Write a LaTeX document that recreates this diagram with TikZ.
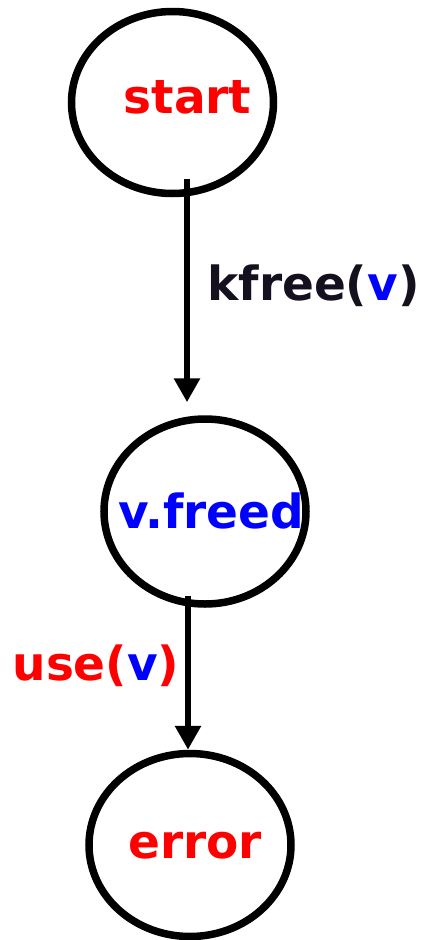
\documentclass[tikz,border=0pt]{standalone}
\usepackage{fontspec}
\setmainfont{DejaVu Sans}
\usetikzlibrary{shapes.geometric, arrows.meta}

\definecolor{labelink}{HTML}{15101E}

\begin{document}
\begin{tikzpicture}[x=1pt, y=-1pt, line width=7.5pt,
  every node/.style={font=\bfseries\fontsize{47}{47}\selectfont},
  state/.style={draw, ellipse, inner sep=0pt, minimum width=202pt, minimum height=183pt},
  trans/.style={line width=6.5pt, -{Triangle[width=25pt, length=24pt]}}]

\useasboundingbox (0,0) rectangle (432,940);

% States
\node[state, minimum height=182pt] (start) at (172.5,102.5) {};
\node[state, minimum height=185pt] (vfreed) at (205,511.5) {};
\node[state] (error) at (190,845) {};

% State names
\node[anchor=base, text=red] (startname) at (187.5,113) {start};
\node[anchor=base, text=blue] (vfreedname) at (211.5,528) {v.freed};
\node[anchor=base, text=red] (errorname) at (195,858) {error};

% Transitions
\coordinate (kfreefrom) at ([xshift=14.5pt, yshift=18pt]start.south);
\coordinate (kfreeto) at ([yshift=13pt]kfreefrom |- vfreed.north);
\draw[trans] (kfreefrom) -- (kfreeto);

\coordinate (usefrom) at ([xshift=-17pt, yshift=12pt]vfreed.south);
\coordinate (useto) at (usefrom |- error.north);
\draw[trans] (usefrom) -- (useto);

% Transition labels
\node[anchor=base, text=labelink] (kfreelabel) at (313.5,300) {kfree(\textcolor{blue}{v})};
\node[anchor=base, text=red] (uselabel) at (96,680) {use(\textcolor{blue}{v})};

\end{tikzpicture}
\end{document}
